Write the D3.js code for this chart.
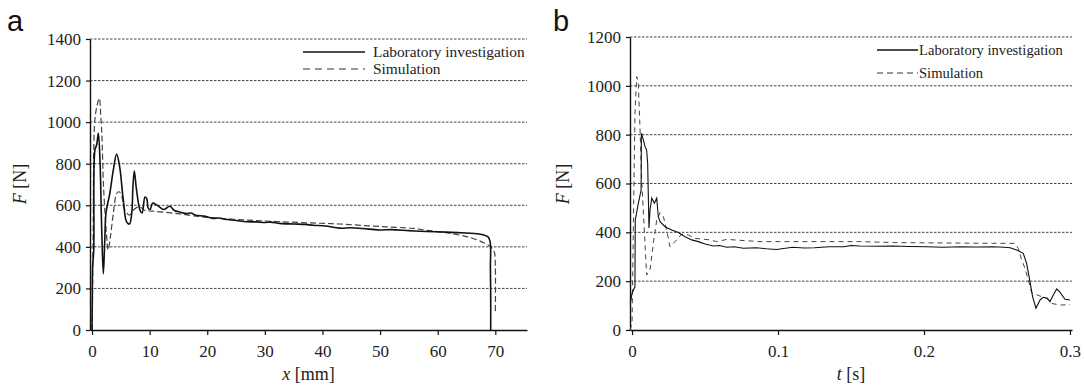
<!DOCTYPE html>
<html>
<head>
<meta charset="utf-8">
<script src="https://cdn.jsdelivr.net/npm/d3@7"></script>
<style>
  body { margin: 0; background: #fff; }
  svg text { font-family: "Liberation Serif", "Times New Roman", serif; fill: #222; }
</style>
</head>
<body>
<div id="chart"></div>
<script>
// panel a: force vs displacement
const xTicksA = [0, 10, 20, 30, 40, 50, 60, 70];
const yTicksA = [0, 200, 400, 600, 800, 1000, 1200, 1400];
const labA = [
  [0, 0], [0.05, 150], [0.1, 303], [0.3, 385], [0.5, 866], [0.8, 890], [1.1, 946], [1.4, 802],
  [1.65, 520], [1.96, 270], [2.2, 420], [2.43, 563], [3.1, 659], [3.7, 770], [4.27, 847],
  [4.8, 785], [5.43, 625], [6.0, 520], [6.5, 510], [6.9, 563], [7.1, 688], [7.34, 765],
  [7.7, 680], [8.32, 577], [8.7, 563], [9.19, 640], [9.5, 632], [9.77, 585], [10.1, 580],
  [10.5, 610], [11.2, 602], [11.8, 590], [12.5, 580], [13.5, 595], [14.3, 575], [15.2, 568],
  [16.5, 560], [17.2, 563], [18, 552], [19.5, 548], [21, 537], [22, 539], [23, 533], [25, 527],
  [26.8, 521], [28.5, 520], [30, 517], [31, 519], [32.6, 513], [35, 510], [37, 508], [38.4, 504],
  [40.5, 500], [43, 490], [45, 492], [47, 488], [49.9, 481], [52, 483], [55, 478], [58, 474],
  [61.5, 471], [64, 468], [67.2, 462], [68.7, 449], [69.1, 425], [69.15, 300], [69.2, 150],
  [69.2, 16], [69.2, 0]
];
const simA = [
  [0, 0], [0.1, 200], [0.2, 465], [0.45, 995], [0.8, 1070], [1.27, 1115], [1.5, 1040],
  [1.7, 947], [2.0, 690], [2.5, 465], [2.8, 385], [3.2, 450], [3.7, 562], [4.3, 658], [4.7, 665],
  [5.2, 640], [5.7, 577], [6.5, 553], [7.2, 577], [8.0, 593], [8.6, 588], [9.2, 575],
  [10.5, 572], [12.3, 567], [15.2, 559], [18, 548], [21, 540], [26.8, 529], [32, 522],
  [38, 515], [43, 510], [48, 501], [52, 495], [55.7, 489], [58, 480], [61.5, 468], [65.5, 446],
  [68, 420], [69, 404], [69.8, 377], [70, 305], [70, 88]
];

// panel b: force vs time
const xTicksB = [0, 0.1, 0.2, 0.3];
const yTicksB = [0, 200, 400, 600, 800, 1000, 1200];
const labB = [
  [-0.0012, 110], [0, 151], [0.002, 177], [0.0022, 450], [0.0043, 519], [0.0062, 573],
  [0.0064, 806], [0.0078, 778], [0.0089, 751], [0.0100, 737], [0.0107, 683], [0.0116, 418],
  [0.0123, 491], [0.0135, 540], [0.0153, 519], [0.0169, 540], [0.018, 464], [0.0192, 444],
  [0.0226, 423], [0.0272, 410], [0.0317, 399], [0.0363, 382], [0.0409, 369], [0.0454, 362],
  [0.05, 352], [0.0557, 344], [0.06, 346], [0.0649, 339], [0.07, 341], [0.0763, 335],
  [0.085, 337], [0.092, 333], [0.099, 330], [0.11, 339], [0.118, 336], [0.125, 337],
  [0.135, 341], [0.145, 341], [0.15, 346], [0.156, 344], [0.168, 343], [0.179, 344],
  [0.19, 342], [0.2018, 341], [0.213, 339], [0.2247, 341], [0.236, 340], [0.247, 341],
  [0.255, 339], [0.259, 337], [0.2635, 328], [0.268, 314], [0.2703, 273], [0.2726, 198],
  [0.2744, 137], [0.2767, 89], [0.2795, 123], [0.2817, 134], [0.2845, 130], [0.2863, 116],
  [0.2886, 143], [0.2909, 168], [0.293, 156], [0.2966, 126], [0.3, 123]
];
const simB = [
  [-0.0014, 0], [0, 27], [0.001, 464], [0.002, 888], [0.0032, 1038], [0.0043, 1010],
  [0.0055, 819], [0.0066, 614], [0.0084, 410], [0.0100, 225], [0.0123, 246], [0.0146, 355],
  [0.0169, 450], [0.0192, 481], [0.0215, 464], [0.0237, 410], [0.026, 341], [0.0295, 362],
  [0.034, 393], [0.0386, 389], [0.0432, 375], [0.0489, 372], [0.0534, 369], [0.058, 362],
  [0.065, 371], [0.0877, 362], [0.156, 362], [0.18, 358], [0.247, 355], [0.2623, 355],
  [0.2646, 334], [0.2669, 287], [0.2692, 253], [0.2714, 205], [0.2738, 153], [0.2795, 139],
  [0.284, 130], [0.2874, 109], [0.293, 102], [0.3, 104]
];
const legendLabels = ['Laboratory investigation', 'Simulation'];

const width = 1084, height = 389;
const serif = '"Liberation Serif", "Times New Roman", serif';
const svg = d3.select('#chart').append('svg')
  .attr('width', width)
  .attr('height', height);

const panels = [
  {
    letter: 'a', letterX: 7, lab: labA, sim: simA, xTicks: xTicksA, yTicks: yTicksA,
    xDomain: [-0.35, 75.5], xRange: [90, 527], yDomain: [0, 1400], yRange: [330, 39],
    xFmt: d3.format('d'), xTitle: ['x', ' [mm]'], yTitleX: 26, curve: d3.curveCatmullRom.alpha(0.5),
    labW: 1.6, simW: 1.2, simDash: '6,3', legX: 303, legW: 62, legY: [52, 69], legFont: 15.4
  },
  {
    letter: 'b', letterX: 553, lab: labB, sim: simB, xTicks: xTicksB, yTicks: yTicksB,
    xDomain: [-0.0014, 0.3014], xRange: [630, 1072], yDomain: [0, 1200], yRange: [330, 37],
    xFmt: d => d === 0 ? '0' : d3.format('.1f')(d), xTitle: ['t', ' [s]'], yTitleX: 569,
    curve: d3.curveLinear, labW: 1.1, simW: 1.0, simDash: '5,4', legX: 877, legW: 41,
    legY: [50, 73], legFont: 14.6
  }
];

panels.forEach(p => {
  const x = d3.scaleLinear().domain(p.xDomain).range(p.xRange);
  const y = d3.scaleLinear().domain(p.yDomain).range(p.yRange);
  const g = svg.append('g');

  // grid lines
  g.selectAll('line.grid')
    .data(p.yTicks.filter(t => t > 0))
    .join('line')
    .attr('class', 'grid')
    .attr('x1', p.xRange[0]).attr('x2', p.xRange[1])
    .attr('y1', d => y(d)).attr('y2', d => y(d))
    .attr('stroke', '#444')
    .attr('stroke-width', 1)
    .attr('stroke-dasharray', '2.5,1.5');

  // axes
  const xAxis = g.append('g')
    .attr('transform', `translate(0,${p.yRange[0]})`)
    .call(d3.axisBottom(x).tickValues(p.xTicks).tickFormat(p.xFmt).tickSize(5).tickPadding(10).tickSizeOuter(0));
  const yAxis = g.append('g')
    .attr('transform', `translate(${p.xRange[0]},0)`)
    .call(d3.axisLeft(y).tickValues(p.yTicks).tickFormat(d3.format('d')).tickSize(4).tickPadding(5).tickSizeOuter(0));
  [xAxis, yAxis].forEach(a => {
    a.attr('font-family', null).attr('font-size', null);
    a.select('.domain').attr('stroke', '#111').attr('stroke-width', 1.4);
    a.selectAll('.tick line').attr('stroke', '#111').attr('stroke-width', 1.2);
    a.selectAll('.tick text')
      .style('font-family', serif)
      .style('font-size', '17px')
      .style('fill', '#222');
  });

  // curves
  const line = d3.line().x(d => x(d[0])).y(d => y(d[1])).curve(p.curve);
  g.append('path')
    .datum(p.sim)
    .attr('d', line)
    .attr('fill', 'none')
    .attr('stroke', '#444')
    .attr('stroke-width', p.simW)
    .attr('stroke-dasharray', p.simDash);
  g.append('path')
    .datum(p.lab)
    .attr('d', line)
    .attr('fill', 'none')
    .attr('stroke', '#111')
    .attr('stroke-width', p.labW);

  // legend
  const leg = g.selectAll('g.leg')
    .data(legendLabels)
    .join('g')
    .attr('class', 'leg')
    .attr('transform', (_, i) => `translate(${p.legX},${p.legY[i]})`);
  leg.append('line')
    .attr('x1', 0).attr('x2', p.legW)
    .attr('stroke', (_, i) => i === 0 ? '#111' : '#333')
    .attr('stroke-width', (_, i) => i === 0 ? 1.5 : 1.2)
    .attr('stroke-dasharray', (_, i) => i === 0 ? null : (p.letter === 'a' ? '7,5' : '6,4'));
  leg.append('text')
    .attr('x', p.legW + (p.letter === 'a' ? 8 : 1))
    .attr('y', 5)
    .attr('font-size', p.legFont)
    .text(d => d);

  // axis titles
  const xt = g.append('text')
    .attr('x', (p.xRange[0] + p.xRange[1]) / 2)
    .attr('y', 380)
    .attr('text-anchor', 'middle')
    .attr('font-size', 18);
  xt.append('tspan').attr('font-style', 'italic').text(p.xTitle[0]);
  xt.append('tspan').text(p.xTitle[1]);

  const yt = g.append('text')
    .attr('transform', `translate(${p.yTitleX},184) rotate(-90)`)
    .attr('text-anchor', 'middle')
    .attr('font-size', 18);
  yt.append('tspan').attr('font-style', 'italic').text('F');
  yt.append('tspan').text(' [N]');

  // panel letter
  g.append('text')
    .attr('x', p.letterX)
    .attr('y', 31)
    .style('font-family', '"Liberation Sans", Arial, sans-serif')
    .attr('font-size', 29)
    .style('fill', '#111')
    .text(p.letter);
});
</script>
</body>
</html>
